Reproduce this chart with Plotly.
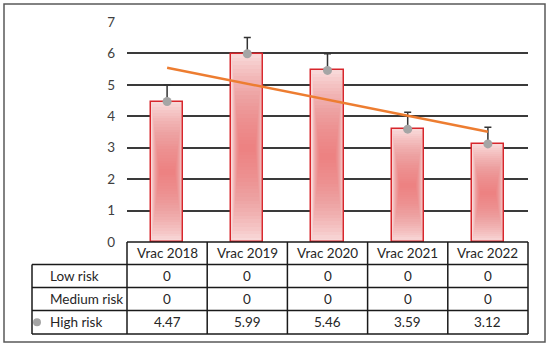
import numpy as np
import plotly.graph_objects as go

# ---- data ----
categories = ["Vrac 2018", "Vrac 2019", "Vrac 2020", "Vrac 2021", "Vrac 2022"]
row_labels = ["Low risk", "Medium risk", "High risk"]
low_risk = [0, 0, 0, 0, 0]
medium_risk = [0, 0, 0, 0, 0]
high_risk = [4.47, 5.99, 5.46, 3.59, 3.12]
high_risk_err = [0.53, 0.52, 0.53, 0.54, 0.53]
y_ticks = [0, 1, 2, 3, 4, 5, 6, 7]

# ---- layout geometry (pixels) ----
W, H = 550, 346
L, R, T, B = 127, 22, 22, 104
PW, PH = W - L - R, H - T - B
FONT = "Lato"
TXT = "#262626"

def px_x(px):
    return (px - L) / PW

def px_y(py):
    return (H - B - py) / PH

xs = list(range(len(categories)))
fig = go.Figure()

# base bars (light fill + red border)
fig.add_trace(go.Bar(x=xs, y=high_risk, width=0.4,
                     marker=dict(color="#F8D8D8", line=dict(color="#D7262C", width=1.5)),
                     hoverinfo="skip", showlegend=False))
# layered inner rectangles to imitate a centre gradient
N = 24
for k in range(1, N + 1):
    s = 1 - k / (N + 1)
    fig.add_trace(go.Bar(x=xs, y=[v * s for v in high_risk],
                         base=[v * (1 - s) / 2 for v in high_risk],
                         width=0.4 * (0.5 + 0.5 * s) - 0.01,
                         marker=dict(color="rgba(238,118,118,0.055)", line=dict(width=0)),
                         hoverinfo="skip", showlegend=False))

# markers with upper error bars
fig.add_trace(go.Scatter(x=xs, y=high_risk, mode="markers",
                         marker=dict(color="#A5A5A5", size=9),
                         error_y=dict(type="data", symmetric=False, array=high_risk_err,
                                      arrayminus=[0] * len(high_risk),
                                      color="#333333", thickness=1.5, width=3.5),
                         showlegend=False))

# linear trendline
coef = np.polyfit(np.arange(len(high_risk)), high_risk, 1)
tx = [xs[0], xs[-1]]
ty = list(np.polyval(coef, tx))
fig.add_trace(go.Scatter(x=tx, y=ty, mode="lines",
                         line=dict(color="#ED7D31", width=2.5), showlegend=False))

shapes = []
ann = []
LINE = dict(color="#1a1a1a", width=1.5)

# table row boundaries in pixels
rows_px = [242, 264.5, 287.5, 310.5, 334]
left_px = 32
n = len(categories)
shapes.append(dict(type="line", xref="paper", yref="paper", x0=0, x1=1,
                   y0=px_y(rows_px[0]), y1=px_y(rows_px[0]), line=LINE))
for ry in rows_px[1:]:
    shapes.append(dict(type="line", xref="paper", yref="paper", x0=px_x(left_px), x1=1,
                       y0=px_y(ry), y1=px_y(ry), line=LINE))
for i in range(n + 1):
    shapes.append(dict(type="line", xref="paper", yref="paper", x0=i / n, x1=i / n,
                       y0=px_y(rows_px[0]), y1=px_y(rows_px[-1]), line=LINE))
shapes.append(dict(type="line", xref="paper", yref="paper", x0=px_x(left_px), x1=px_x(left_px),
                   y0=px_y(rows_px[1]), y1=px_y(rows_px[-1]), line=LINE))

TF = dict(family=FONT, size=13.5, color=TXT)
for i, c in enumerate(categories):
    ann.append(dict(xref="paper", yref="paper", x=(i + 0.5) / n,
                    y=px_y((rows_px[0] + rows_px[1]) / 2), text=c, showarrow=False,
                    xanchor="center", yanchor="middle", font=TF))
table_rows = [low_risk, medium_risk, high_risk]
for r, (lab, vals) in enumerate(zip(row_labels, table_rows)):
    yc = px_y((rows_px[r + 1] + rows_px[r + 2]) / 2)
    ann.append(dict(xref="paper", yref="paper", x=px_x(48), y=yc, text=lab,
                    xanchor="left", yanchor="middle", showarrow=False, font=TF))
    for i, v in enumerate(vals):
        ann.append(dict(xref="paper", yref="paper", x=(i + 0.5) / n, y=yc, text=f"{v:g}",
                        xanchor="center", yanchor="middle", showarrow=False, font=TF))

# legend key dot for High risk
yc_high = px_y((rows_px[3] + rows_px[4]) / 2)
shapes.append(dict(type="circle", xref="paper", yref="paper", xsizemode="pixel", ysizemode="pixel",
                   xanchor=px_x(37), yanchor=yc_high, x0=-4, x1=4, y0=-4, y1=4,
                   fillcolor="#A5A5A5", line=dict(width=0)))

# outer chart border
shapes.append(dict(type="rect", xref="paper", yref="paper", x0=px_x(4), x1=px_x(545),
                   y0=px_y(342), y1=px_y(4), line=dict(color="#595959", width=1.5),
                   layer="below"))

fig.update_layout(
    width=W, height=H, margin=dict(l=L, r=R, t=T, b=B),
    paper_bgcolor="white", plot_bgcolor="white",
    barmode="overlay", bargap=0, showlegend=False,
    shapes=shapes, annotations=ann,
    font=dict(family=FONT, size=13.5, color=TXT),
    xaxis=dict(range=[-0.5, n - 0.5], showticklabels=False, showgrid=False,
               zeroline=False, showline=False, fixedrange=True),
    yaxis=dict(range=[0, 7], tickvals=y_ticks, showgrid=True, gridcolor="#3a3a3a",
               gridwidth=1.5, zeroline=False, showline=False, ticks="",
               ticklabelstandoff=11, tickfont=dict(family=FONT, size=13.5, color="#404040")),
)

fig.write_html("out.html", config={"displayModeBar": False},
               post_script="document.body.style.margin='0';document.body.style.overflow='hidden';")
